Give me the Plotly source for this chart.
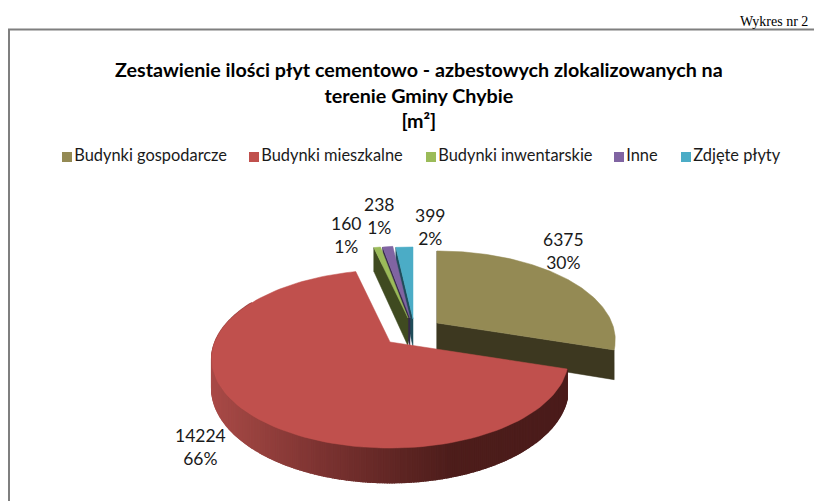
import numpy as np
import plotly.graph_objects as go

categories = ["Budynki gospodarcze", "Budynki mieszkalne", "Budynki inwentarskie", "Inne", "Zdjęte płyty"]
values = [6375, 14224, 160, 238, 399]
percent_labels = ["30%", "66%", "1%", "1%", "2%"]

top_colors = ["#948A54", "#C0504D", "#9BBB59", "#8064A2", "#4BACC6"]
wall_colors = ["#3D3820", "#5A2221", "#3F4A20", "#35294A", "#1F4C5A"]
apexes = [(437, 323), (390, 342), (408, 318), (410, 318), (413, 319)]
label_xy = [(563, 251), (200, 447), (346, 235), (379, 216), (430, 227)]
legend_x = [67, 254, 431, 619, 686]

RX, RY, K, DEPTH = 175.0, 85.8, 0.191, 28.0
rim_stops_x = [210, 260, 320, 400, 450, 570]
rim_stops = [(170, 75, 72), (150, 65, 62), (125, 52, 50), (95, 38, 36), (78, 30, 28), (75, 28, 27)]


def project(apex, th):
    w = 1 + K * np.cos(th)
    return apex[0] + RX * np.sin(th) / w, apex[1] - RY * np.cos(th) / w, DEPTH / w


def poly(fig, xs, ys, color, width=0.5):
    fig.add_trace(go.Scatter(x=xs, y=ys, mode="lines", fill="toself", fillcolor=color,
                             line=dict(color=color, width=width), hoverinfo="skip", showlegend=False))


fracs = np.array(values) / sum(values)
edges = np.concatenate([[0], np.cumsum(fracs)]) * 2 * np.pi
fig = go.Figure()


def wall(i, th):
    a = apexes[i]
    x, y, d = project(a, th)
    d0 = project(a, np.pi / 2)[2]
    poly(fig, [x, a[0], a[0], x, x], [y, a[1], a[1] + d0, y + d, y], wall_colors[i])


def top(i):
    a = apexes[i]
    t = np.linspace(edges[i], edges[i + 1], 120)
    x, y, _ = project(a, t)
    poly(fig, [a[0], *x, a[0]], [a[1], *y, a[1]], top_colors[i])


for i in (4, 3, 2):
    wall(i, edges[i])
for i in (2, 3, 4):
    top(i)

wall(0, edges[0])
wall(0, edges[1])
top(0)

# red slice: rim with a horizontal shade, drawn right to left, then top face
ts = np.linspace(edges[1], np.radians(300), 300)
for t0, t1 in zip(ts[:-1], ts[1:]):
    x0, y0, d0 = project(apexes[1], t0)
    x1, y1, d1 = project(apexes[1], t1)
    mid = (x0 + x1) / 2
    rgb = [np.interp(mid, rim_stops_x, [s[c] for s in rim_stops]) for c in range(3)]
    col = "rgb(%d,%d,%d)" % tuple(rgb)
    poly(fig, [x0, x1, x1, x0, x0], [y0, y1, y1 + d1, y0 + d0, y0], col, width=1.5)
top(1)

fig.add_trace(go.Scatter(x=legend_x, y=[157] * 5, mode="markers+text", text=categories,
                         textposition="middle right",
                         textfont=dict(family="Lato", size=16.4, color="#1a1a1a"),
                         marker=dict(symbol="square", size=10, color=top_colors),
                         hoverinfo="skip", showlegend=False))

annotations = [dict(x=lx, y=ly, text=f"{v}<br>{p}", showarrow=False, xanchor="center", yanchor="middle",
                    font=dict(family="Lato", size=17.5, color="#1a1a1a"), align="center")
               for (lx, ly), v, p in zip(label_xy, values, percent_labels)]
annotations.append(dict(x=738, y=21, text="Wykres nr 2", showarrow=False, xanchor="left", yanchor="middle",
                        font=dict(family="Liberation Serif", size=14, color="#000000")))
annotations.append(dict(x=419, y=95, text="Zestawienie ilości płyt cementowo - azbestowych zlokalizowanych na<br>"
                                          "terenie Gminy Chybie<br>[m²]",
                        showarrow=False, xanchor="center", yanchor="middle", align="center",
                        font=dict(family="Lato", size=19.7, color="#000000", weight="bold")))

fig.update_layout(
    width=814, height=501, margin=dict(l=0, r=0, t=0, b=0),
    paper_bgcolor="white", plot_bgcolor="white", showlegend=False,
    xaxis=dict(range=[0, 814], visible=False, fixedrange=True),
    yaxis=dict(range=[501, 0], visible=False, fixedrange=True),
    annotations=annotations,
    shapes=[dict(type="path", path="M 9 520 L 9 29.5 L 830 29.5", line=dict(color="#7f7f7f", width=2), layer="below")],
)
fig.write_html("out.html", config={"displayModeBar": False},
               post_script="document.body.style.margin='0';document.body.style.overflow='hidden';")
